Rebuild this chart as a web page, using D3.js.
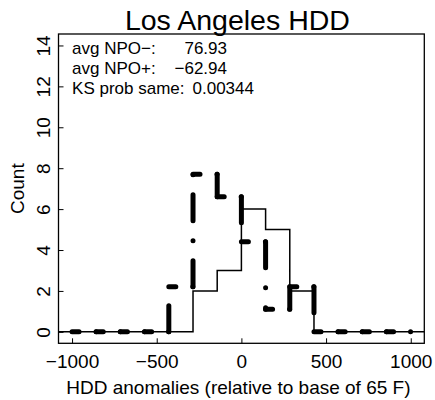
<!DOCTYPE html>
<html>
<head>
<meta charset="utf-8">
<script src="https://cdn.jsdelivr.net/npm/d3@7"></script>
<style>
  html, body { margin: 0; padding: 0; background: #fff; }
  svg { display: block; font-family: "Liberation Sans", Arial, Helvetica, sans-serif; }
</style>
</head>
<body>
<svg id="chart" width="435" height="400"></svg>
<script>
// Histogram bin edges (HDD anomaly, 14 bins of 1000/7)
const binEdges = [-1000, -857.1, -714.3, -571.4, -428.6, -285.7, -142.9, 0,
                  142.9, 285.7, 428.6, 571.4, 714.3, 857.1, 1000];
// Counts per bin: NPO+ years (thin solid) and NPO- years (thick dot-dash, rescaled)
const countsNpoPlus  = [0, 0, 0, 0, 0, 2, 3, 6, 5, 2, 0, 0, 0, 0];
const countsNpoMinus = [0, 0, 0, 0, 2.2, 7.7, 6.6, 4.4, 1.1, 2.2, 0, 0, 0, 0];

const xTicks = [-1000, -500, 0, 500, 1000];
const yTicks = [0, 2, 4, 6, 8, 10, 12, 14];

const titleText = "Los Angeles HDD";
const xLabel = "HDD anomalies (relative to base of 65 F)";
const yLabel = "Count";
const statLabels = ["avg NPO\u2212:", "avg NPO+:", "KS prob same:"];
const statValues = ["76.93", "\u221262.94", "0.00344"];

const svg = d3.select("#chart");
const x = d3.scaleLinear().domain([-1080, 1080]).range([58.5, 424.3]);
const y = d3.scaleLinear().domain([-0.56, 14.56]).range([343.3, 34]);
const fmt = v => v < 0 ? "\u2212" + Math.abs(v) : String(v);

// Thin solid step outline, carried out to the plot edges
const solidPts = [[x.domain()[0], 0]];
countsNpoPlus.forEach((c, i) => {
  solidPts.push([binEdges[i], c]);
  solidPts.push([binEdges[i + 1], c]);
});
solidPts.push([x.domain()[1], 0]);
svg.append("path")
  .attr("d", d3.line().x(d => x(d[0])).y(d => y(d[1]))(solidPts))
  .attr("fill", "none").attr("stroke", "#000").attr("stroke-width", 1.5);

// Thick dot-dash outline, one segment per horizontal run / vertical step
const segs = [];
countsNpoMinus.forEach((c, i) => {
  segs.push({ x1: binEdges[i], y1: c, x2: binEdges[i + 1], y2: c, horiz: true });
  const next = i + 1 < countsNpoMinus.length ? countsNpoMinus[i + 1] : null;
  if (next !== null && next !== c) {
    segs.push({ x1: binEdges[i + 1], y1: c, x2: binEdges[i + 1], y2: next, horiz: false });
  }
});
svg.append("g").selectAll("line").data(segs).join("line")
  .attr("x1", d => x(d.x1)).attr("y1", d => y(d.y1))
  .attr("x2", d => x(d.x2)).attr("y2", d => y(d.y2))
  .attr("stroke", "#000").attr("stroke-width", 5)
  .attr("stroke-linecap", "round")
  .attr("stroke-dasharray", d => d.horiz ? "7,17,0.01,300" : "26,20,0.01,20");

// X axis, ticks pointing into the plot
const gx = svg.append("g").attr("transform", `translate(0,${y.range()[0]})`)
  .call(d3.axisBottom(x).tickValues(xTicks).tickSize(-5).tickPadding(0).tickFormat(fmt));
gx.select(".domain").remove();
gx.selectAll(".tick line").attr("stroke-width", 1);
gx.selectAll(".tick text").attr("y", 25).attr("dy", null)
  .attr("font-size", 19).attr("font-family", null).attr("fill", "#000");

// Y axis, labels turned parallel to the axis
const gy = svg.append("g").attr("transform", `translate(${x.range()[0]},0)`)
  .call(d3.axisLeft(y).tickValues(yTicks).tickSize(-5).tickPadding(0));
gy.select(".domain").remove();
gy.selectAll(".tick line").attr("stroke-width", 1);
gy.selectAll(".tick text")
  .attr("x", null).attr("dy", null)
  .attr("text-anchor", "middle")
  .attr("transform", "translate(-9,0) rotate(-90)")
  .attr("font-size", 19).attr("font-family", null).attr("fill", "#000");

// Plot frame
svg.append("rect")
  .attr("x", x.range()[0]).attr("y", y.range()[1])
  .attr("width", x.range()[1] - x.range()[0])
  .attr("height", y.range()[0] - y.range()[1])
  .attr("fill", "none").attr("stroke", "#000").attr("stroke-width", 1.3);

// Titles
svg.append("text").attr("x", (x.range()[0] + x.range()[1]) / 2 - 4).attr("y", 30)
  .attr("text-anchor", "middle").attr("font-size", 28.5).text(titleText);
svg.append("text").attr("x", (x.range()[0] + x.range()[1]) / 2 - 3).attr("y", 394)
  .attr("text-anchor", "middle").attr("font-size", 19).text(xLabel);
svg.append("text")
  .attr("transform", `translate(24,${(y.range()[0] + y.range()[1]) / 2}) rotate(-90)`)
  .attr("text-anchor", "middle").attr("font-size", 19).text(yLabel);

// Summary statistics in the upper-left corner
const statRowY = [48, 68, 88];
const stats = svg.append("g").attr("font-size", 17);
statLabels.forEach((lab, i) => {
  const t = stats.append("text").attr("x", x(-1000)).attr("y", statRowY[i])
    .attr("dy", "0.35em").text(lab);
  const v = stats.append("text").attr("y", statRowY[i]).attr("dy", "0.35em").text(statValues[i]);
  if (i < 2) {
    // the two averages share a right edge
    v.attr("x", 227).attr("text-anchor", "end");
  } else {
    v.attr("x", x(-1000) + t.node().getComputedTextLength() + 8);
  }
});
</script>
</body>
</html>
